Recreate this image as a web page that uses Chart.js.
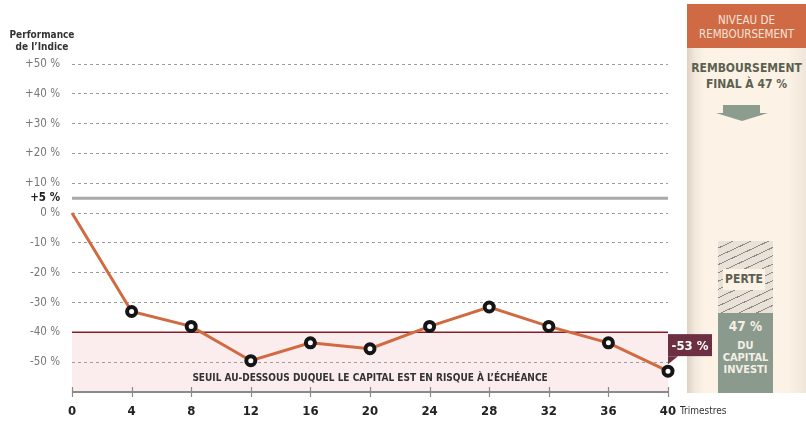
<!DOCTYPE html>
<html lang="fr">
<head>
<meta charset="utf-8">
<script src="https://cdn.jsdelivr.net/npm/chart.js@4.4.1/dist/chart.umd.min.js"></script>
<style>
  html, body { margin: 0; padding: 0; background: #fff; }
  #wrap { position: relative; width: 806px; height: 421px; overflow: hidden;
    font-family: 'Liberation Sans Narrow', 'DejaVu Sans Condensed', Roboto, sans-serif; }
  #chart { position: absolute; left: 0; top: 0; z-index: 2; }
  .ytitle { position: absolute; left: 0; top: 29px; width: 84px; text-align: center;
    font-size: 10px; font-weight: bold; line-height: 12px; color: #333; z-index: 3; }
  .xtitle { position: absolute; left: 680px; top: 405px; font-size: 10px; color: #333; z-index: 3; }
  .panel { position: absolute; left: 687px; top: 4px; width: 119px; height: 389px; z-index: 1;
    background: linear-gradient(to right, #ddd1c5 0px, #f3e8dc 8px, #fcf2e6 18px, #fcf2e6 100px, #f1e6da 119px); }
  .head { position: absolute; left: 0; top: 0; width: 119px; height: 44px; background: #cf6a45;
    color: #f7e4d9; font-size: 11.5px; line-height: 14px; text-align: center; padding-top: 9px; box-sizing: border-box; }
  .final { position: absolute; left: 0; top: 56px; width: 119px; text-align: center;
    color: #5b6150; font-weight: bold; font-size: 12px; line-height: 16px; }
  .arrow { position: absolute; left: 36px; top: 101px; width: 37px; height: 8px; background: #8c9c8f; }
  .arrowhead { position: absolute; left: 29px; top: 109px; width: 0; height: 0;
    border-left: 26px solid transparent; border-right: 26px solid transparent; border-top: 8px solid #8c9c8f; }
  .hatch { position: absolute; left: 31px; top: 237px; width: 55px; height: 72px;
    background: repeating-linear-gradient(-25deg, #e8e2d8 0px, #e8e2d8 6.5px, #8f8a83 6.5px, #8f8a83 7.5px); }
  .perte { position: absolute; left: 36px; top: 265px; width: 42px; height: 21px; background: #fcf2e6;
    color: #5b6150; font-weight: bold; font-size: 12px; line-height: 21px; text-align: center; }
  .capital { position: absolute; left: 31px; top: 309px; width: 55px; height: 80px; background: #8a9a8c;
    color: #f4efe6; text-align: center; font-weight: bold; }
  .capital .pct { font-size: 13.5px; margin-top: 5px; line-height: 16px; }
  .capital .txt { font-size: 11px; line-height: 12px; margin-top: 6px; }
</style>
</head>
<body>
<div id="wrap">
  <div class="panel">
    <div class="head">NIVEAU DE<br>REMBOURSEMENT</div>
    <div class="final">REMBOURSEMENT<br>FINAL À 47 %</div>
    <div class="arrow"></div><div class="arrowhead"></div>
    <div class="hatch"></div>
    <div class="perte">PERTE</div>
    <div class="capital"><div class="pct">47 %</div><div class="txt">DU<br>CAPITAL<br>INVESTI</div></div>
  </div>
  <canvas id="chart" width="806" height="421"></canvas>
  <div class="ytitle">Performance<br>de l’Indice</div>
  <div class="xtitle">Trimestres</div>
</div>
<script>
// values
const QUARTERS = [0, 4, 8, 12, 16, 20, 24, 28, 32, 36, 40];
const PERF = [0, -33, -38, -49.5, -43.5, -45.5, -38, -31.5, -38, -43.5, -53];
const Y_TICKS = [50, 40, 30, 20, 10, 5, 0, -10, -20, -30, -40, -50];
const COUPON_LEVEL = 5;
const BARRIER = -40;
const FINAL_LABEL = '-53 %';
const BAND_TEXT = 'SEUIL AU-DESSOUS DUQUEL LE CAPITAL EST EN RISQUE À L’ÉCHÉANCE';

const FONT = "'Liberation Sans Narrow', 'DejaVu Sans Condensed', Roboto, sans-serif";
const LINE = '#d06a40', BAND = '#fbeced', RED = '#8b1c24', GREY = '#a9a9a9';

const decor = {
  id: 'decor',
  beforeDraw(chart) {
    const { ctx, chartArea: a, scales: { y } } = chart;
    const top = y.getPixelForValue(BARRIER);
    ctx.save();
    ctx.fillStyle = BAND;
    ctx.fillRect(a.left, top, a.right - a.left, a.bottom - top);
    ctx.restore();
  },
  beforeDatasetsDraw(chart) {
    const { ctx, chartArea: a, scales: { x, y } } = chart;
    ctx.save();
    // +5 % level
    let py = y.getPixelForValue(COUPON_LEVEL);
    ctx.strokeStyle = GREY; ctx.lineWidth = 3;
    ctx.beginPath(); ctx.moveTo(a.left, py); ctx.lineTo(a.right, py); ctx.stroke();
    // capital barrier
    py = y.getPixelForValue(BARRIER);
    ctx.strokeStyle = RED; ctx.lineWidth = 1.5;
    ctx.beginPath(); ctx.moveTo(a.left, py); ctx.lineTo(a.right, py); ctx.stroke();
    // band caption
    ctx.fillStyle = '#333';
    ctx.font = 'bold 10px ' + FONT;
    ctx.textAlign = 'center'; ctx.textBaseline = 'middle';
    ctx.fillText(BAND_TEXT, x.getPixelForValue(20), y.getPixelForValue(-55.5));
    // x axis line + crossing ticks
    ctx.strokeStyle = '#8a8a8a'; ctx.lineWidth = 2;
    ctx.beginPath(); ctx.moveTo(a.left, a.bottom); ctx.lineTo(a.right, a.bottom); ctx.stroke();
    ctx.lineWidth = 1.2;
    QUARTERS.forEach((q) => {
      const px = Math.round(x.getPixelForValue(q)) + 0.5;
      ctx.beginPath(); ctx.moveTo(px, a.bottom - 5); ctx.lineTo(px, a.bottom + 5); ctx.stroke();
    });
    ctx.restore();
  },
  afterDraw(chart) {
    const { ctx } = chart;
    const pts = chart.getDatasetMeta(0).data;
    const p = pts[pts.length - 1];
    const bx = p.x, by = p.y - 37, bw = 44, bh = 22;
    ctx.save();
    ctx.fillStyle = '#6c3042';
    ctx.fillRect(bx, by, bw, bh);
    ctx.beginPath();
    ctx.moveTo(bx, by + bh); ctx.lineTo(bx + 10, by + bh); ctx.lineTo(bx, by + bh + 8);
    ctx.closePath(); ctx.fill();
    ctx.fillStyle = '#fff';
    ctx.font = 'bold 13px ' + FONT;
    ctx.textAlign = 'center'; ctx.textBaseline = 'middle';
    ctx.fillText(FINAL_LABEL, bx + bw / 2, by + bh / 2 + 1);
    ctx.restore();
  },
};

new Chart(document.getElementById('chart'), {
  type: 'line',
  data: {
    labels: QUARTERS,
    datasets: [{
      data: QUARTERS.map((q, i) => ({ x: q, y: PERF[i] })),
      borderColor: LINE,
      borderWidth: 3,
      tension: 0,
      pointRadius: (c) => (c.dataIndex === 0 ? 0 : 4.5),
      pointBorderWidth: 4,
      pointBorderColor: '#151515',
      pointBackgroundColor: '#fff',
      clip: false,
    }],
  },
  options: {
    responsive: false,
    animation: false,
    events: [],
    layout: { padding: { top: 64, right: 138, left: 0, bottom: 0 } },
    plugins: { legend: { display: false }, tooltip: { enabled: false } },
    scales: {
      x: {
        type: 'linear', min: 0, max: 40,
        afterFit: (s) => { s.height = 29; },
        grid: { display: false, drawTicks: false },
        border: { display: false },
        ticks: { stepSize: 4, padding: 12, color: '#222', font: { family: FONT, size: 13, weight: 'bold' } },
      },
      y: {
        min: -60, max: 50,
        afterFit: (s) => { s.width = 72; },
        afterBuildTicks: (s) => { s.ticks = Y_TICKS.map((v) => ({ value: v })); },
        border: { display: false, dash: [3, 3] },
        grid: {
          drawTicks: false,
          color: (c) => (c.tick && c.tick.value === COUPON_LEVEL ? 'rgba(0,0,0,0)' : '#9c9c9c'),
          lineWidth: 1,
        },
        ticks: {
          padding: 12,
          color: (c) => (c.tick && c.tick.value === COUPON_LEVEL ? '#222' : '#777'),
          font: (c) => ({ family: FONT, size: 11.5,
            weight: c.tick && c.tick.value === COUPON_LEVEL ? 'bold' : 'normal' }),
          callback: (v) => (v > 0 ? '+' : '') + v + ' %',
        },
      },
    },
  },
  plugins: [decor],
});
</script>
</body>
</html>
